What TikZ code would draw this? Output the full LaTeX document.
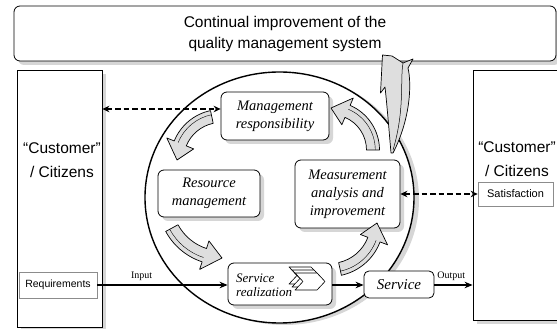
\documentclass[tikz,border=0pt]{standalone}
\usepackage{fontspec}
\setmainfont{Liberation Serif}
\newfontfamily\arialf{Liberation Sans}
\usetikzlibrary{shapes.geometric,arrows.meta,calc,shadows}
\tikzset{
 shd/.style={drop shadow={shadow xshift=4pt,shadow yshift=-4pt,fill=black!16,opacity=1}},
 box/.style={draw, fill=white, line width=0.8pt, rounded corners=6pt, inner sep=0pt},
 sqbox/.style={draw, fill=white, line width=0.8pt, inner sep=0pt},
 lightbox/.style={draw=black!45, fill=white, line width=0.7pt, inner sep=0pt},
 ital/.style={font=\fontsize{14.5}{18}\selectfont\itshape, align=center},
 sans/.style={font=\arialf\fontsize{15.5}{21}\selectfont, align=center},
 cust/.style={font=\arialf\fontsize{15.5}{23.5}\selectfont, align=center, inner sep=0pt},
 flow/.style={line width=1.4pt, -{Stealth[length=8pt,width=6.5pt]}},
 dasharr/.style={line width=1.8pt, dash pattern=on 5.5pt off 3pt, {Stealth[length=7pt,width=6.5pt]}-{Stealth[length=7pt,width=6.5pt]}},
 cycle arrow/.style={fill=black!13, draw=black, line width=0.7pt, line join=round},
 chevshape/.style={fill=white, draw=black, line width=0.6pt, line join=round},
 smalllbl/.style={font=\fontsize{10}{11}\selectfont},
}
% #1 cx, #2 cy, #3 r, #4 tail angle, #5 tip angle, #6 body half width, #7 head half width, #8 head length
\newcommand\cycarrow[8]{%
 \pgfmathsetmacro\cyAh{#5-#8/#3*57.2958}%
 \pgfmathsetmacro\cyRo{#3+#6}\pgfmathsetmacro\cyRi{#3-#6}%
 \pgfmathsetmacro\cyHo{#3+#7}\pgfmathsetmacro\cyHi{#3-#7}%
 \pgfmathsetmacro\cyRm{#3+0.35*#6}%
 \filldraw[cycle arrow] ($(#1,#2)+(#4:\cyRo)$) arc[start angle=#4, end angle=\cyAh, radius=\cyRo]
   -- ($(#1,#2)+(\cyAh:\cyHo)$) -- ($(#1,#2)+(#5:#3)$) -- ($(#1,#2)+(\cyAh:\cyHi)$)
   -- ($(#1,#2)+(\cyAh:\cyRi)$) arc[start angle=\cyAh, end angle=#4, radius=\cyRi] -- cycle;
 \draw[line width=0.4pt] ($(#1,#2)+(#4:\cyRm)$) arc[start angle=#4, end angle=\cyAh, radius=\cyRm];
}
\begin{document}
\begin{tikzpicture}[x=1pt,y=1pt]
\useasboundingbox (0,0) rectangle (557,329);
% cycle circle
\node[ellipse, draw, line width=1.4pt, fill=white, minimum width=269pt, minimum height=251pt, inner sep=0pt,
  drop shadow={shadow xshift=5pt,shadow yshift=-2pt,fill=black!16,opacity=1}] (cyc) at (279.5,329-197.5) {};
% top box
\node[box, shd, minimum width=542pt, minimum height=55pt, sans] (topbox) at (285,329-33.5)
  {Continual improvement of the\\quality management system};
% left customer box
\node[sqbox, shd, minimum width=85pt, minimum height=257pt] (lbox) at (59.5,329-198.5) {};
\node[cust] (lcust) at (62,329-160) {“Customer”\\/ Citizens};
\node[lightbox, minimum width=78pt, minimum height=26pt, font=\arialf\fontsize{10.5}{12}\selectfont] (req) at (58,329-285) {Requirements};
% right customer box
\node[sqbox, shd, minimum width=85pt, minimum height=250pt] (rbox) at (515.5,329-195) {};
\node[cust] (rcust) at (517,329-159) {“Customer”\\/ Citizens};
\node[lightbox, minimum width=75pt, minimum height=24pt, font=\arialf\fontsize{11}{12}\selectfont] (sat) at (515.5,329-194) {Satisfaction};
% process boxes
\node[box, shd, minimum width=108pt, minimum height=48pt, ital] (mgmt) at (275,329-116) {Management\\responsibility};
\node[box, shd, minimum width=102pt, minimum height=47pt, ital] (res) at (209,329-193.5) {Resource\\management};
\node[box, shd, minimum width=105pt, minimum height=68pt, ital] (meas) at (347.5,329-194) {Measurement\\analysis and\\improvement};
\node[box, shd, minimum width=104pt, minimum height=42pt] (sr) at (280,329-284) {};
\node[anchor=west, align=left, font=\fontsize{13}{14}\selectfont\itshape, inner sep=0pt] (srtext) at (236,329-285) {Service\\realization};
\foreach \d in {0,3,6}{
  \draw[chevshape] (289+\d,329-267-\d) -- ++(22,0) -- ++(8,-8.5) -- ++(-8,-8.5) -- ++(-22,0) -- ++(8,8.5) -- cycle;
}
\node[box, rounded corners=5pt, minimum width=70pt, minimum height=27pt, font=\fontsize{15}{16}\selectfont\itshape] (svc) at (399,329-284.5) {Service};
% flow arrows
\coordinate (flowy) at (0,329-285);
\draw[flow] (req.east |- flowy) -- node[pos=0.34, above=0pt, smalllbl] (inlbl) {Input} (sr.west |- flowy);
\draw[flow] (sr.east |- flowy) -- (svc.west |- flowy);
\draw[flow] (svc.east |- flowy) -- node[pos=0.44, above=0pt, smalllbl] (outlbl) {Output} (rbox.west |- flowy);
% dashed feedback arrows
\coordinate (dtop) at (0,329-109);
\draw[dasharr] (lbox.east |- dtop) -- (mgmt.west |- dtop);
\draw[dasharr] (meas.east |- sat.west) -- (sat.west);
% cycle arrows
\cycarrow{221}{169}{44}{102}{180}{6.5}{14.5}{17}
\cycarrow{222}{128}{57}{208.4}{270}{7}{15}{18}
\cycarrow{330}{106}{47}{-77.7}{0}{6.5}{14.5}{17}
\cycarrow{331}{179}{42}{0}{90}{6.5}{14.5}{17}
% improvement arrow to the top box
\filldraw[cycle arrow] (391,329-153) .. controls (389,329-130) and (387,329-105) .. (385,329-87)
  -- (380.5,329-93) -- (382.5,329-55) -- (392,329-56) -- (403,329-63) -- (413,329-59) -- (408,329-68)
  .. controls (412,329-85) and (410,329-120) .. (393,329-153) -- cycle;
\draw[line width=0.5pt] (403,329-63) .. controls (400,329-80) and (405,329-110) .. (393,329-150);
\end{tikzpicture}
\end{document}
